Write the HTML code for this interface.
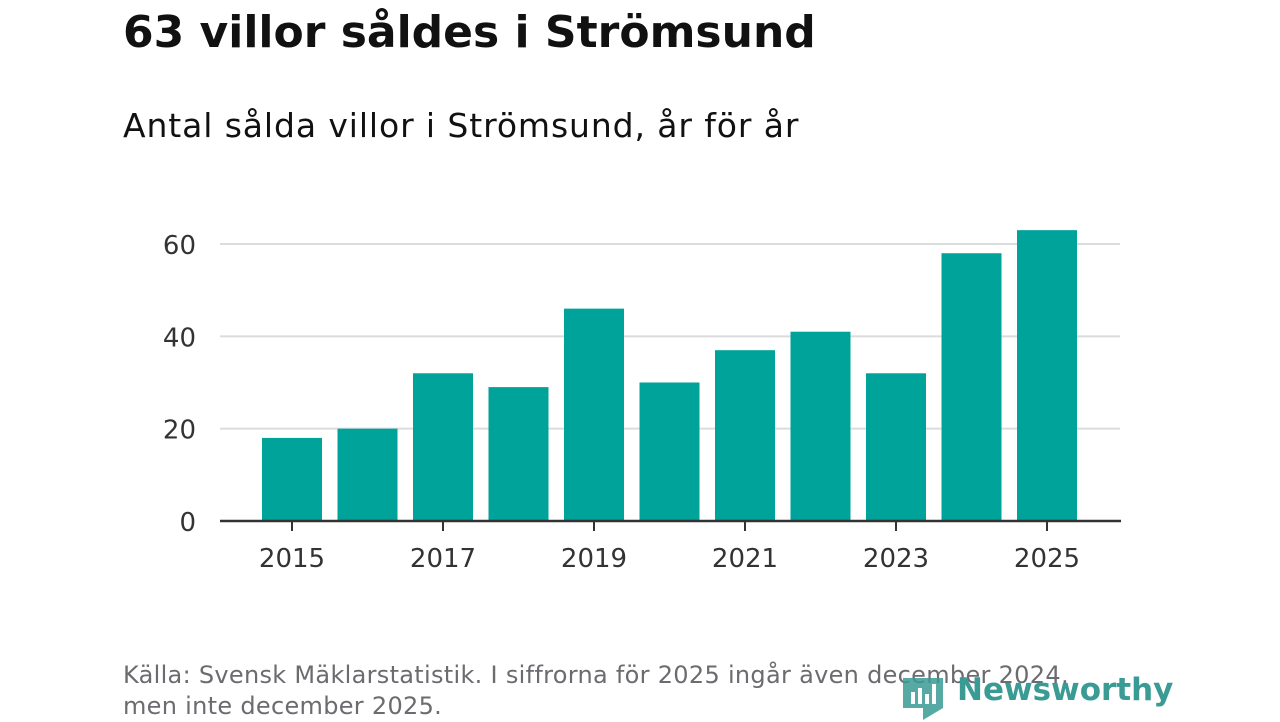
<!DOCTYPE html>
<html><head><meta charset="utf-8"><style>
body{margin:0;width:1280px;height:720px;background:#fff;overflow:hidden;font-family:"DejaVu Sans",sans-serif;position:relative}
.t{position:absolute;left:123px;white-space:nowrap}
</style></head><body>
<div class="t" style="top:7px;font-size:44px;font-weight:bold;color:#111">63 villor såldes i Strömsund</div>
<div class="t" style="top:106px;font-size:33px;letter-spacing:0.9px;color:#111">Antal sålda villor i Strömsund, år för år</div>
<svg id="c" width="1280" height="720" style="position:absolute;left:0;top:0"></svg>
<div class="t" style="top:660px;font-size:24px;line-height:31px;color:#6b6b70;letter-spacing:0.3px">Källa: Svensk Mäklarstatistik. I siffrorna för 2025 ingår även december 2024,<br>men inte december 2025.</div>
<div style="position:absolute;left:903px;top:672px;width:280px;height:48px">
<svg width="40" height="48" style="position:absolute;left:0;top:2px"><path d="M0 4h40v30l-20 12v-12H0z" fill="#3a9a94" opacity="0.85"/><rect x="8" y="18" width="4" height="12" fill="#fff"/><rect x="15" y="14" width="4" height="16" fill="#fff"/><rect x="22" y="20" width="4" height="10" fill="#fff"/><rect x="29" y="10" width="4" height="20" fill="#fff"/></svg>
<span style="position:absolute;left:54px;top:0px;font-size:31px;font-weight:bold;color:#3a9a94">Newsworthy</span></div>
<script>
const years=[2015,2016,2017,2018,2019,2020,2021,2022,2023,2024,2025];
const values=[18,20,32,29,46,30,37,41,32,58,63];
const yTicks=[0,20,40,60];
const xLabels=[2015,2017,2019,2021,2023,2025];
const svg=document.getElementById('c');const NS='http://www.w3.org/2000/svg';
const y=v=>521-v*(277/60);
const x=yr=>292+(yr-2015)*75.5;
function mk(t,a){const e=document.createElementNS(NS,t);for(const k in a)e.setAttribute(k,a[k]);svg.appendChild(e);return e;}
yTicks.forEach(v=>{
 if(v>0){const l=mk('line',{x1:220,x2:1120,y1:y(v),y2:y(v),stroke:'#dcdcdc','stroke-width':2});
 
 }
 const t=mk('text',{x:196,y:y(v)+10,'text-anchor':'end','font-size':26,fill:'#333','font-family':'DejaVu Sans, sans-serif'});t.textContent=v;
 
 
});
years.forEach((yr,i)=>{
 const r=mk('rect',{x:x(yr)-30,y:y(values[i]),width:60,height:521-y(values[i]),fill:'#00a39a'});
 
 
});
const ax=mk('line',{x1:220,x2:1121,y1:521,y2:521,stroke:'#333','stroke-width':2.5});


xLabels.forEach(yr=>{
 const tk=mk('line',{x1:x(yr),x2:x(yr),y1:521,y2:531,stroke:'#333','stroke-width':2});
 
 
 const t=mk('text',{x:x(yr),y:567,'text-anchor':'middle','font-size':26,fill:'#333','font-family':'DejaVu Sans, sans-serif'});t.textContent=yr;
 
 
});
</script>
</body></html>
